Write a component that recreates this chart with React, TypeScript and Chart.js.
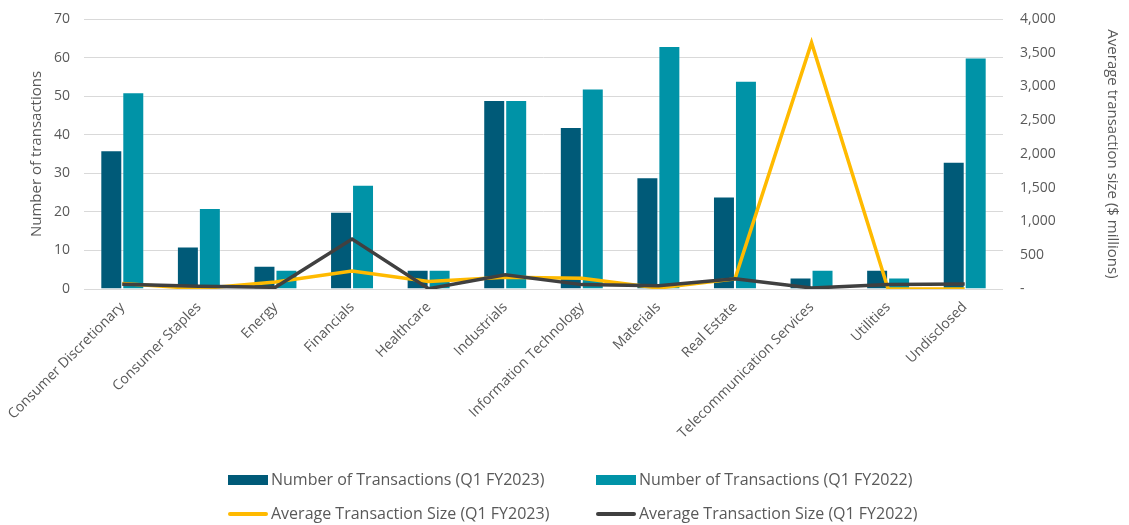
import React, { useEffect, useRef } from "react";
import { Chart, registerables } from "chart.js";

Chart.register(...registerables);

const categories = [
  "Consumer Discretionary",
  "Consumer Staples",
  "Energy",
  "Financials",
  "Healthcare",
  "Industrials",
  "Information Technology",
  "Materials",
  "Real Estate",
  "Telecommunication Services",
  "Utilities",
  "Undisclosed",
];
const txFY2023 = [36, 11, 6, 20, 5, 49, 42, 29, 24, 3, 5, 33];
const txFY2022 = [51, 21, 5, 27, 5, 49, 52, 63, 54, 5, 3, 60];
const avgFY2023 = [80, 5, 105, 265, 110, 175, 160, 15, 150, 3650, 0, 0];
const avgFY2022 = [70, 40, 25, 740, 5, 210, 65, 50, 150, 15, 65, 75];

const TEXT = "#595959";
const FONT = "'Open Sans', 'Liberation Sans', sans-serif";

const legendPlugin = {
  id: "gridLegend",
  afterDraw(chart: any) {
    const ctx = chart.ctx;
    const ds = chart.data.datasets;
    const cols = [228, 596];
    const rows = [480, 514];
    ctx.save();
    ctx.font = `16px ${FONT}`;
    ctx.textBaseline = "middle";
    ctx.textAlign = "left";
    ds.forEach((d: any, i: number) => {
      const x = cols[i % 2];
      const y = rows[Math.floor(i / 2)];
      if (d.type === "line") {
        ctx.strokeStyle = d.borderColor;
        ctx.lineWidth = 4;
        ctx.lineCap = "round";
        ctx.beginPath();
        ctx.moveTo(x + 2, y);
        ctx.lineTo(x + 38, y);
        ctx.stroke();
      } else {
        ctx.fillStyle = d.backgroundColor;
        ctx.fillRect(x, y - 5, 40, 10);
      }
      ctx.fillStyle = TEXT;
      ctx.fillText(d.label, x + 43, y);
    });
    ctx.restore();
  },
};

export default function App() {
  const ref = useRef<HTMLCanvasElement>(null);
  useEffect(() => {
    if (!ref.current) return;
    const chart = new Chart(ref.current, {
      type: "bar",
      data: {
        labels: categories,
        datasets: [
          {
            type: "bar",
            label: "Number of Transactions (Q1 FY2023)",
            data: txFY2023,
            backgroundColor: "#005A78",
            borderColor: "rgba(255,255,255,0.25)",
            borderWidth: 1,
            yAxisID: "y",
            order: 3,
          },
          {
            type: "bar",
            label: "Number of Transactions (Q1 FY2022)",
            data: txFY2022,
            backgroundColor: "#0093A7",
            borderColor: "rgba(255,255,255,0.25)",
            borderWidth: 1,
            yAxisID: "y",
            order: 3,
          },
          {
            type: "line",
            label: "Average Transaction Size (Q1 FY2023)",
            data: avgFY2023,
            borderColor: "#FFBA00",
            backgroundColor: "#FFBA00",
            borderWidth: 3.5,
            pointRadius: 0,
            tension: 0,
            yAxisID: "y1",
            order: 1,
          },
          {
            type: "line",
            label: "Average Transaction Size (Q1 FY2022)",
            data: avgFY2022,
            borderColor: "#404040",
            backgroundColor: "#404040",
            borderWidth: 3.5,
            pointRadius: 0,
            tension: 0,
            yAxisID: "y1",
            order: 0,
          },
        ] as any,
      },
      options: {
        animation: false,
        responsive: false,
        maintainAspectRatio: false,
        layout: { padding: { left: 24, right: 4, top: 19, bottom: 0 } },
        datasets: { bar: { categoryPercentage: 0.574, barPercentage: 1 } } as any,
        plugins: {
          legend: { display: false },
          tooltip: { enabled: false },
        },
        scales: {
          x: {
            grid: { display: false },
            border: { display: false },
            ticks: {
              color: TEXT,
              font: { family: FONT, size: 14 },
              minRotation: 45,
              maxRotation: 45,
              autoSkip: false,
              padding: 2,
            },
            afterFit(s: any) {
              s.height = 236;
            },
          },
          y: {
            position: "left",
            min: 0,
            max: 70,
            ticks: {
              stepSize: 10,
              color: TEXT,
              font: { family: FONT, size: 14 },
              padding: 14,
            },
            grid: { color: "#D9D9D9", lineWidth: 1, drawTicks: false },
            border: { display: false },
            title: {
              display: true,
              text: "Number of transactions",
              color: TEXT,
              font: { family: FONT, size: 15 },
            },
            afterFit(s: any) {
              s.width = 60;
              s.paddingTop = 0;
              s.paddingBottom = 0;
            },
          },
          y1: {
            position: "right",
            min: 0,
            max: 4000,
            ticks: {
              stepSize: 500,
              color: TEXT,
              font: { family: FONT, size: 14 },
              padding: 17,
              callback: (v: any) => (v === 0 ? "-" : Number(v).toLocaleString("en-US")),
            },
            grid: { drawOnChartArea: false, drawTicks: false },
            border: { display: false },
            title: {
              display: true,
              text: "Average transaction size ($ millions)",
              color: TEXT,
              font: { family: FONT, size: 15 },
            },
            afterFit(s: any) {
              s.width = 122;
              s.paddingTop = 0;
              s.paddingBottom = 0;
            },
          },
        },
      } as any,
      plugins: [legendPlugin],
    });
    return () => chart.destroy();
  }, []);
  return (
    <div style={{ position: "absolute", left: 0, top: 0, width: 1129, height: 525 }}>
      <canvas ref={ref} width={1129} height={525} style={{ display: "block" }} />
    </div>
  );
}
